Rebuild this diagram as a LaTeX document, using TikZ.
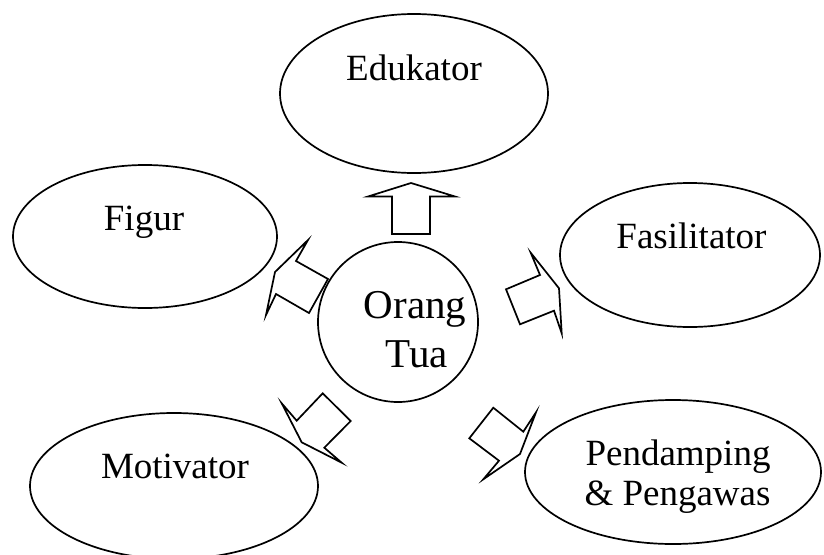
\documentclass[tikz,border=0pt]{standalone}
\usepackage{fontspec}
\setmainfont{Liberation Serif}
\usetikzlibrary{shapes.geometric}
\begin{document}
\begin{tikzpicture}[x=1pt,y=-1pt,
  oval/.style={draw, ellipse, line width=1.7pt, inner sep=0pt},
  lbl/.style={anchor=base, inner sep=0pt, font=\fontsize{37}{40}\selectfont},
  biglbl/.style={anchor=base, inner sep=0pt, font=\fontsize{41}{49}\selectfont},
  blockarrow/.style={draw, line width=1.7pt, fill=white, line join=miter}]
\useasboundingbox (0,0) rectangle (824,554);
% ovals
\node[oval, minimum width=268pt, minimum height=159pt] (edu) at (414,93.5) {};
\node[oval, minimum width=264pt, minimum height=143pt] (fig) at (145,236.5) {};
\node[oval, minimum width=260pt, minimum height=144pt] (fas) at (690,255) {};
\node[oval, minimum width=288pt, minimum height=146pt] (mot) at (174,486) {};
\node[oval, minimum width=296pt, minimum height=144pt] (pen) at (673,472) {};
\node[draw, circle, line width=1.7pt, inner sep=0pt, minimum size=160pt] (ot) at (398,322) {};
% labels
\node[lbl] (tedu) at (414,80) {Edukator};
\node[lbl] (tfig) at (144,230) {Figur};
\node[lbl] (tfas) at (691.5,248) {Fasilitator};
\node[lbl] (tmot) at (175,478) {Motivator};
\node[lbl] (tpen1) at (678,465) {Pendamping};
\node[lbl] (tpen2) at (677.5,505) {\& Pengawas};
\node[biglbl] (tot1) at (415,318) {Orang};
\node[biglbl] (tot2) at (417,367) {Tua};
% block arrows
\draw[blockarrow] (392,234) -- (392,196.5) -- (368,196.5) -- (411,183) -- (455,196.5) -- (430,196.5) -- (430,234) -- cycle;
\draw[blockarrow] (308,240) -- (296,261) -- (328,279) -- (309,313) -- (276,294) -- (266,315) -- (275,272) -- cycle;
\draw[blockarrow] (530.7,252.7) -- (540,275) -- (506,289.3) -- (520,324.3) -- (554,310.7) -- (561.7,333.3) -- (559,288.3) -- cycle;
\draw[blockarrow] (322.7,393.3) -- (350.7,421) -- (324.3,447.7) -- (341.7,462.7) -- (301.7,442.3) -- (281.7,403.3) -- (296.7,420.7) -- cycle;
\draw[blockarrow] (493.3,407.7) -- (523.3,431.7) -- (536,412.3) -- (520,454) -- (483.3,479.3) -- (499,460.7) -- (469.3,438.3) -- cycle;
\end{tikzpicture}
\end{document}
